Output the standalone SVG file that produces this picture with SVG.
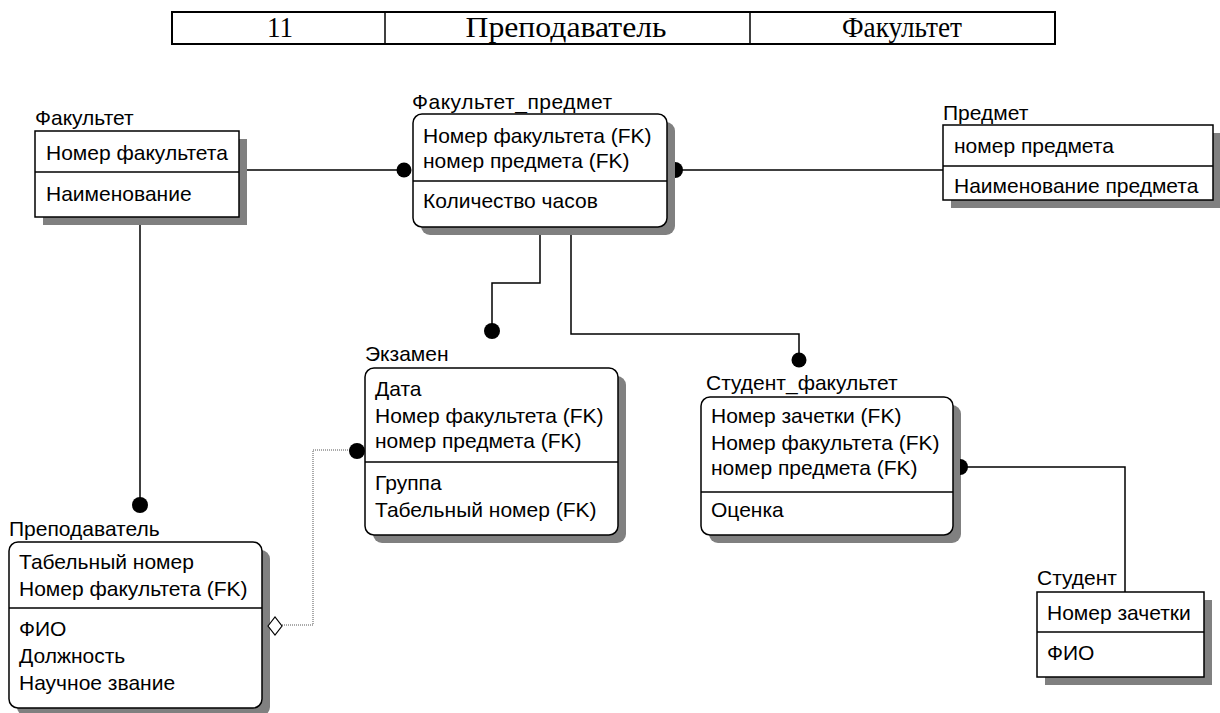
<svg xmlns="http://www.w3.org/2000/svg" width="1220" height="713" viewBox="0 0 1220 713">
  <style>
    .hdr { font-family: "Liberation Serif", "Times New Roman", serif; font-size: 30px; fill: #000; text-anchor: middle; }
    .lbl { font-family: "Liberation Sans", Arial, sans-serif; font-size: 21px; fill: #000; }
    .txt { font-family: "Liberation Sans", Arial, sans-serif; font-size: 21px; fill: #000; }
    .box { fill: #fff; stroke: #000; stroke-width: 1.5; }
    .shadow { fill: #808080; stroke: none; }
    .div { stroke: #000; stroke-width: 1.5; }
    .rel { fill: none; stroke: #000; stroke-width: 1.5; }
    .nonid { fill: none; stroke: #555; stroke-width: 1; stroke-dasharray: 1 1; }
    .dot { fill: #000; }
  </style>

  <!-- header row -->
  <g id="header">
    <rect x="172" y="12" width="883" height="32" fill="#fff" stroke="#000" stroke-width="2"/>
    <line x1="385" y1="12" x2="385" y2="44" stroke="#000" stroke-width="1.5"/>
    <line x1="750" y1="12" x2="750" y2="44" stroke="#000" stroke-width="1.5"/>
    <text class="hdr" x="280" y="37" textLength="26" lengthAdjust="spacingAndGlyphs">11</text>
    <text class="hdr" x="566" y="37" textLength="201" lengthAdjust="spacingAndGlyphs">Преподаватель</text>
    <text class="hdr" x="902" y="37" textLength="120" lengthAdjust="spacingAndGlyphs">Факультет</text>
  </g>

  <!-- relationships -->
  <g id="connectors">
    <line class="rel" x1="239" y1="170" x2="400" y2="170"/>
    <line class="rel" x1="675" y1="170" x2="943" y2="170"/>
    <line class="rel" x1="140" y1="217" x2="140" y2="500"/>
    <polyline class="rel" points="540,227 540,283 492,283 492,326"/>
    <polyline class="rel" points="571,227 571,334 799,334 799,356"/>
    <polyline class="rel" points="1125,592 1125,467 962,467"/>
    <polyline class="nonid" points="282,625 313,625 313,450 352,450"/>
  </g>

  <!-- Факультет -->
  <g id="faculty">
    <text class="lbl" x="35" y="125">Факультет</text>
    <rect class="shadow" x="43" y="139" width="204" height="86"/>
    <rect class="box" x="35" y="131" width="204" height="86"/>
    <line class="div" x1="35" y1="172" x2="239" y2="172"/>
    <text class="txt" x="46" y="160">Номер факультета</text>
    <text class="txt" x="46" y="201">Наименование</text>
  </g>

  <!-- Факультет_предмет -->
  <g id="faculty-subject">
    <text class="lbl" x="412" y="109" textLength="200" lengthAdjust="spacing">Факультет_предмет</text>
    <rect class="shadow" x="421" y="122" width="254" height="113" rx="9"/>
    <rect class="box" x="413" y="114" width="254" height="113" rx="9"/>
    <line class="div" x1="413" y1="181" x2="667" y2="181"/>
    <text class="txt" x="423" y="143">Номер факультета (FK)</text>
    <text class="txt" x="423" y="168">номер предмета (FK)</text>
    <text class="txt" x="423" y="208">Количество часов</text>
  </g>

  <!-- Предмет -->
  <g id="subject">
    <text class="lbl" x="943" y="120">Предмет</text>
    <rect class="shadow" x="951" y="133" width="270" height="75"/>
    <rect class="box" x="943" y="125" width="270" height="75"/>
    <line class="div" x1="943" y1="166" x2="1213" y2="166"/>
    <text class="txt" x="954" y="153">номер предмета</text>
    <text class="txt" x="954" y="193">Наименование предмета</text>
  </g>

  <!-- Экзамен -->
  <g id="exam">
    <text class="lbl" x="365" y="361">Экзамен</text>
    <rect class="shadow" x="373" y="376" width="253" height="167" rx="9"/>
    <rect class="box" x="365" y="368" width="253" height="167" rx="9"/>
    <line class="div" x1="365" y1="462" x2="618" y2="462"/>
    <text class="txt" x="375" y="396">Дата</text>
    <text class="txt" x="375" y="423">Номер факультета (FK)</text>
    <text class="txt" x="375" y="448">номер предмета (FK)</text>
    <text class="txt" x="375" y="490">Группа</text>
    <text class="txt" x="375" y="517">Табельный номер (FK)</text>
  </g>

  <!-- Студент_факультет -->
  <g id="student-faculty">
    <text class="lbl" x="706" y="390">Студент_факультет</text>
    <rect class="shadow" x="709" y="405" width="252" height="138" rx="9"/>
    <rect class="box" x="701" y="397" width="252" height="138" rx="9"/>
    <line class="div" x1="701" y1="492" x2="953" y2="492"/>
    <text class="txt" x="711" y="423">Номер зачетки (FK)</text>
    <text class="txt" x="711" y="450">Номер факультета (FK)</text>
    <text class="txt" x="711" y="475">номер предмета (FK)</text>
    <text class="txt" x="711" y="517">Оценка</text>
  </g>

  <!-- Студент -->
  <g id="student">
    <text class="lbl" x="1037" y="585">Студент</text>
    <rect class="shadow" x="1045" y="600" width="167" height="85"/>
    <rect class="box" x="1037" y="592" width="167" height="85"/>
    <line class="div" x1="1037" y1="632" x2="1204" y2="632"/>
    <text class="txt" x="1047" y="620">Номер зачетки</text>
    <text class="txt" x="1047" y="660">ФИО</text>
  </g>

  <!-- Преподаватель -->
  <g id="teacher">
    <text class="lbl" x="9" y="536">Преподаватель</text>
    <rect class="shadow" x="17" y="550" width="253" height="166" rx="9"/>
    <rect class="box" x="9" y="542" width="253" height="166" rx="9"/>
    <line class="div" x1="9" y1="608" x2="262" y2="608"/>
    <text class="txt" x="19" y="569">Табельный номер</text>
    <text class="txt" x="19" y="596">Номер факультета (FK)</text>
    <text class="txt" x="19" y="636">ФИО</text>
    <text class="txt" x="19" y="663">Должность</text>
    <text class="txt" x="19" y="690">Научное звание</text>
  </g>

  <!-- relationship end markers -->
  <g id="ends">
    <circle class="dot" cx="404" cy="170" r="7.5"/>
    <path class="dot" d="M675,162 A8,8 0 0 1 675,178 Z"/>
    <circle class="dot" cx="140" cy="505" r="8"/>
    <circle class="dot" cx="492" cy="331" r="8"/>
    <circle class="dot" cx="799" cy="360" r="7.5"/>
    <path class="dot" d="M960,459 A8,8 0 0 1 960,475 Z"/>
    <circle class="dot" cx="357" cy="451" r="8"/>
    <polygon points="268,626 275,617 282,626 275,635" fill="#fff" stroke="#000" stroke-width="1.2"/>
  </g>
</svg>
